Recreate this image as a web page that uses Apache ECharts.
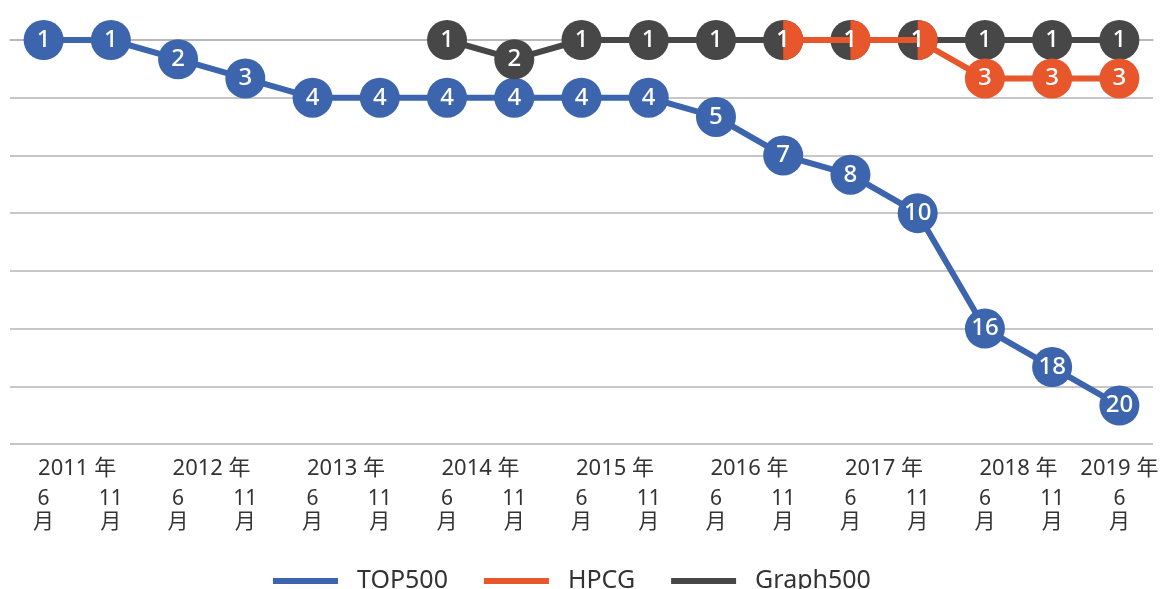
<!DOCTYPE html>
<html>
<head>
<meta charset="utf-8">
<script src="https://cdn.jsdelivr.net/npm/echarts@6/dist/echarts.min.js"></script>
<style>
    html, body { margin: 0; padding: 0; background: #fff; }
    #chart { width: 1165px; height: 589px; }
</style>
</head>
<body>
<div id="chart"></div>
<script>
// 期間（年・月）
var years = ['2011', '2011', '2012', '2012', '2013', '2013', '2014', '2014', '2015',
    '2015', '2016', '2016', '2017', '2017', '2018', '2018', '2019'];
var months = ['6', '11', '6', '11', '6', '11', '6', '11', '6',
    '11', '6', '11', '6', '11', '6', '11', '6'];

// 順位
var top500 = [1, 1, 2, 3, 4, 4, 4, 4, 4, 4, 5, 7, 8, 10, 16, 18, 20];
var hpcg = [null, null, null, null, null, null, null, null, null, null, null, 1, 1, 1, 3, 3, 3];
var graph500 = [null, null, null, null, null, null, 1, 2, 1, 1, 1, 1, 1, 1, 1, 1, 1];

var FONT = '"Noto Sans", "Noto Sans CJK JP", sans-serif';
var BLUE = '#3c65ad';
var ORANGE = '#e8562b';
var GRAY = '#474747';
var GRID_LINE = '#b5b5b5';

var categories = years.map(function (y, i) { return y + '年' + months[i] + '月'; });

// 順位1を軸の0にずらす（目盛りを 1,4,7,... に合わせるため）
function toPlot(arr) {
    return arr.map(function (v) { return v == null ? null : v - 1; });
}

// HPCG と Graph500 が同じ順位のときは右半分だけの丸にする
var hpcgData = hpcg.map(function (v, i) {
    if (v == null) return null;
    if (graph500[i] === v) {
        return {
            value: v - 1,
            symbol: 'path://M0,0A10,10 0 0 1 0,20Z',
            symbolSize: [20, 40],
            symbolOffset: [10, 0],
            label: { offset: [-10, 0] }
        };
    }
    return v - 1;
});

function rankLabel(p) {
    return p.value == null ? '' : String(p.value + 1);
}

function lineSeries(name, data, color, z) {
    return {
        name: name,
        type: 'line',
        data: data,
        z: z,
        clip: false,
        connectNulls: false,
        symbol: 'circle',
        symbolSize: 40,
        showAllSymbol: true,
        lineStyle: { color: color, width: 6 },
        itemStyle: { color: color },
        label: {
            show: true,
            position: 'inside',
            color: '#fff',
            fontSize: 24,
            fontWeight: 500,
            fontFamily: FONT,
            formatter: rankLabel
        },
        emphasis: { disabled: true }
    };
}

var chart = echarts.init(document.getElementById('chart'));
chart.setOption({
    animation: false,
    backgroundColor: '#fff',
    textStyle: { fontFamily: FONT },
    grid: { left: 10, right: 12, top: 40, bottom: 145, containLabel: false },
    legend: {
        data: ['TOP500', 'HPCG', 'Graph500'],
        left: 268,
        top: 561,
        icon: 'rect',
        itemWidth: 65,
        itemHeight: 6,
        itemGap: 36,
        textStyle: {
            fontSize: 25,
            lineHeight: 30,
            color: '#333',
            fontFamily: FONT,
            padding: [0, 0, 0, 14]
        }
    },
    xAxis: [
        {
            type: 'category',
            data: categories,
            boundaryGap: true,
            axisLine: { show: true, lineStyle: { color: GRID_LINE, width: 1.5 } },
            axisTick: { show: false },
            axisLabel: {
                interval: 0,
                margin: 44,
                fontSize: 21,
                lineHeight: 23,
                color: '#333',
                fontFamily: FONT,
                formatter: function (v, i) { return months[i] + '\n月'; }
            }
        },
        {
            // 年の見出し
            type: 'category',
            data: categories,
            position: 'bottom',
            boundaryGap: true,
            axisLine: { show: false },
            axisTick: { show: false },
            axisLabel: {
                interval: 0,
                margin: 14,
                fontSize: 22,
                color: '#333',
                fontFamily: FONT,
                formatter: function (v, i) {
                    if (i > 0 && years[i - 1] === years[i]) return '';
                    if (years[i + 1] === years[i]) return '{w|' + years[i] + ' 年}';
                    return years[i] + ' 年';
                },
                rich: {
                    w: { padding: [0, 0, 0, 67], fontSize: 22, color: '#333', fontFamily: FONT }
                }
            }
        }
    ],
    yAxis: {
        type: 'value',
        inverse: true,
        min: 0,
        max: 21,
        interval: 3,
        axisLine: { show: false },
        axisTick: { show: false },
        axisLabel: { show: false },
        splitLine: { show: true, lineStyle: { color: GRID_LINE, width: 1.5 } }
    },
    series: [
        lineSeries('TOP500', toPlot(top500), BLUE, 2),
        lineSeries('HPCG', hpcgData, ORANGE, 4),
        lineSeries('Graph500', toPlot(graph500), GRAY, 3)
    ]
});
</script>
</body>
</html>
